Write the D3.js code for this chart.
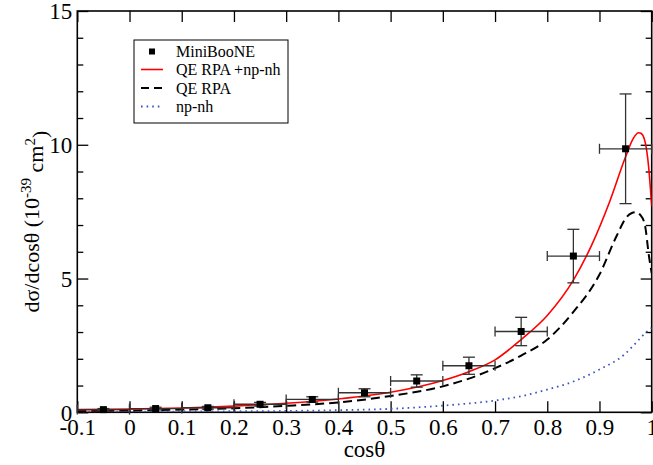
<!DOCTYPE html>
<html>
<head>
<meta charset="utf-8">
<script src="https://cdn.jsdelivr.net/npm/d3@7"></script>
<style>
    body { margin: 0; background: white; }
    svg { display: block; }
    text { font-family: "Liberation Serif", "DejaVu Serif", serif; fill: black; }
</style>
</head>
<body>
<svg id="vis" width="653" height="465"></svg>
<script>
/**
 * magic numbers for the plot frame (pixel edges of the axis box)
 */
const MARGINS = {top: 11, right: 1.3, bottom: 52.7, left: 77.3};

// x axis ticks
const X_TICKS = [-0.1, 0, 0.1, 0.2, 0.3, 0.4, 0.5, 0.6, 0.7, 0.8, 0.9, 1];
const X_TICK_LABELS = ["-0.1", "0", "0.1", "0.2", "0.3", "0.4", "0.5", "0.6", "0.7", "0.8", "0.9", "1"];
// y axis ticks
const Y_TICKS = [0, 5, 10, 15];
const Y_MINOR = [1, 2, 3, 4, 6, 7, 8, 9, 11, 12, 13, 14];

// MiniBooNE data points
const pointX = [-0.05, 0.05, 0.15, 0.25, 0.35, 0.45, 0.55, 0.65, 0.75, 0.85, 0.95];
const pointY = [0.10, 0.14, 0.17, 0.30, 0.48, 0.73, 1.17, 1.74, 3.02, 5.84, 9.85];
const pointErr = [0.04, 0.05, 0.05, 0.07, 0.10, 0.15, 0.23, 0.32, 0.53, 1.0, 2.05];
const binHalf = [0.05, 0.05, 0.05, 0.05, 0.05, 0.05, 0.05, 0.05, 0.05, 0.05, 0.05];

// QE RPA +np-nh (red)
const totalX = [-0.1, 0, 0.1, 0.2, 0.3, 0.4, 0.5, 0.6, 0.65, 0.7, 0.75, 0.8, 0.85, 0.885, 0.92, 0.95, 0.965, 0.975, 0.98, 0.988, 0.994, 1.0];
const totalY = [0.10, 0.12, 0.16, 0.23, 0.34, 0.50, 0.75, 1.19, 1.52, 1.96, 2.72, 3.62, 4.94, 6.25, 7.9, 9.55, 10.25, 10.45, 10.42, 10.05, 9.2, 7.7];

// QE RPA (black dashed)
const qeX = [-0.1, 0, 0.1, 0.2, 0.3, 0.4, 0.5, 0.6, 0.65, 0.7, 0.75, 0.8, 0.85, 0.9, 0.933, 0.952, 0.962, 0.97, 0.978, 0.987, 0.995, 1.0];
const qeY = [0.05, 0.07, 0.10, 0.15, 0.24, 0.37, 0.61, 0.97, 1.26, 1.65, 2.12, 2.72, 3.75, 5.15, 6.6, 7.3, 7.45, 7.48, 7.38, 7.0, 5.8, 5.2];

// np-nh (blue dotted)
const npX = [-0.1, 0, 0.1, 0.2, 0.3, 0.4, 0.5, 0.6, 0.7, 0.75, 0.8, 0.85, 0.9, 0.95, 0.97, 0.99, 1.0];
const npY = [0.02, 0.02, 0.03, 0.04, 0.05, 0.08, 0.13, 0.25, 0.44, 0.6, 0.85, 1.15, 1.6, 2.2, 2.6, 3.0, 3.15];

const LEGEND = ["MiniBooNE", "QE RPA +np-nh", "QE RPA", "np-nh"];

window.onload = function(){
    setup();
};

function setup(){
    const svg = d3.select("#vis");
    const width = 653, height = 465;
    const left = MARGINS.left, right = width - MARGINS.right;
    const top = MARGINS.top, bottom = height - MARGINS.bottom;

    const x = d3.scaleLinear().domain([-0.1, 1]).range([left, right]);
    const y = d3.scaleLinear().domain([0, 15]).range([bottom, top]);

    svg.append("defs").append("clipPath").attr("id", "plotclip")
        .append("rect").attr("x", left).attr("y", top)
        .attr("width", right - left).attr("height", bottom - top);

    // axes: ticks point inward, on all four sides
    svg.append("g").attr("transform", `translate(0,${bottom})`)
        .call(d3.axisBottom(x).tickValues(X_TICKS).tickSize(-11).tickPadding(6)
            .tickFormat((d, i) => X_TICK_LABELS[i]));
    svg.append("g").attr("transform", `translate(0,${top})`)
        .call(d3.axisTop(x).tickValues(X_TICKS).tickSize(-11).tickFormat(""));
    const yl = svg.append("g").attr("transform", `translate(${left},0)`)
        .call(d3.axisLeft(y).tickValues(Y_TICKS).tickSize(-11).tickPadding(5));
    svg.append("g").attr("transform", `translate(${left},0)`)
        .call(d3.axisLeft(y).tickValues(Y_MINOR).tickSize(-6).tickFormat(""));
    svg.append("g").attr("transform", `translate(${right},0)`)
        .call(d3.axisRight(y).tickValues(Y_TICKS).tickSize(-11).tickFormat(""));
    svg.append("g").attr("transform", `translate(${right},0)`)
        .call(d3.axisRight(y).tickValues(Y_MINOR).tickSize(-6).tickFormat(""));

    svg.selectAll(".domain").remove();
    svg.selectAll(".tick line").attr("stroke", "black").attr("stroke-width", 1.3);
    svg.selectAll(".tick text").style("font-size", "23px").attr("fill", "black");
    yl.selectAll(".tick text").attr("dy", "0.34em");

    // frame
    svg.append("rect")
        .attr("x", left).attr("y", top)
        .attr("width", right - left).attr("height", bottom - top)
        .attr("fill", "none").attr("stroke", "black").attr("stroke-width", 1.6);

    // axis labels
    svg.append("text")
        .attr("x", (left + right) / 2).attr("y", 457)
        .style("text-anchor", "middle").style("font-size", "23px")
        .text("cosθ");

    const ylab = svg.append("text")
        .attr("transform", `translate(39,${(top + bottom) / 2 + 10}) rotate(-90)`)
        .style("text-anchor", "middle").style("font-size", "22px");
    ylab.append("tspan").text("dσ/dcosθ (10");
    ylab.append("tspan").attr("dy", "-0.55em").style("font-size", "15px").text("-39");
    ylab.append("tspan").attr("dy", "0.55em").text(" cm");
    ylab.append("tspan").attr("dy", "-0.55em").style("font-size", "15px").text("2");
    ylab.append("tspan").attr("dy", "0.55em").text(")");

    // curves
    const plot = svg.append("g").attr("clip-path", "url(#plotclip)");
    const line = d3.line()
        .x(d => x(d[0])).y(d => y(d[1]))
        .curve(d3.curveMonotoneX);

    plot.append("path")
        .datum(npX.map((v, i) => [v, npY[i]]))
        .attr("d", line).attr("fill", "none")
        .attr("stroke", "#3a55c0").attr("stroke-width", 1.8)
        .attr("stroke-dasharray", "1.6,4");
    plot.append("path")
        .datum(qeX.map((v, i) => [v, qeY[i]]))
        .attr("d", line).attr("fill", "none")
        .attr("stroke", "black").attr("stroke-width", 2)
        .attr("stroke-dasharray", "9,5");
    plot.append("path")
        .datum(totalX.map((v, i) => [v, totalY[i]]))
        .attr("d", line).attr("fill", "none")
        .attr("stroke", "#ff0000").attr("stroke-width", 1.6);

    // data points with error bars
    const pts = pointX.map((v, i) => ({x: v, y: pointY[i], e: pointErr[i], h: binHalf[i]}));
    const eb = svg.append("g").attr("stroke", "#333").attr("stroke-width", 1.3);
    pts.forEach(function(d){
        const cx = x(d.x), cy = y(d.y);
        const x0 = x(d.x - d.h), x1 = x(d.x + d.h);
        const y0 = y(d.y - d.e), y1 = y(d.y + d.e);
        eb.append("line").attr("x1", x0).attr("x2", x1).attr("y1", cy).attr("y2", cy);
        eb.append("line").attr("x1", x0).attr("x2", x0).attr("y1", cy - 5).attr("y2", cy + 5);
        eb.append("line").attr("x1", x1).attr("x2", x1).attr("y1", cy - 5).attr("y2", cy + 5);
        eb.append("line").attr("x1", cx).attr("x2", cx).attr("y1", y0).attr("y2", y1);
        eb.append("line").attr("x1", cx - 6).attr("x2", cx + 6).attr("y1", y0).attr("y2", y0);
        eb.append("line").attr("x1", cx - 6).attr("x2", cx + 6).attr("y1", y1).attr("y2", y1);
    });
    svg.selectAll("rect.pt")
        .data(pts).enter()
        .append("rect").attr("class", "pt")
        .attr("x", d => x(d.x) - 3.5).attr("y", d => y(d.y) - 3.5)
        .attr("width", 7).attr("height", 7).attr("fill", "black");

    // legend
    const lg = svg.append("g");
    lg.append("rect").attr("x", 134).attr("y", 40).attr("width", 154).attr("height", 83)
        .attr("fill", "white").attr("stroke", "black").attr("stroke-width", 1);
    const rowY = [51.5, 69.5, 88, 106.5];
    lg.append("rect").attr("x", 149).attr("y", rowY[0] - 3).attr("width", 6).attr("height", 6).attr("fill", "black");
    lg.append("line").attr("x1", 141).attr("x2", 163).attr("y1", rowY[1]).attr("y2", rowY[1])
        .attr("stroke", "#ff0000").attr("stroke-width", 1.6);
    lg.append("line").attr("x1", 141).attr("x2", 163).attr("y1", rowY[2]).attr("y2", rowY[2])
        .attr("stroke", "black").attr("stroke-width", 2).attr("stroke-dasharray", "8,5");
    lg.append("line").attr("x1", 141).attr("x2", 163).attr("y1", rowY[3]).attr("y2", rowY[3])
        .attr("stroke", "#3a55c0").attr("stroke-width", 1.8).attr("stroke-dasharray", "1.6,4");
    lg.selectAll("text.lab").data(LEGEND).enter()
        .append("text").attr("class", "lab")
        .attr("x", 176).attr("y", (d, i) => rowY[i]).attr("dy", "0.35em")
        .style("font-size", "16px")
        .text(d => d);
}
</script>
</body>
</html>
